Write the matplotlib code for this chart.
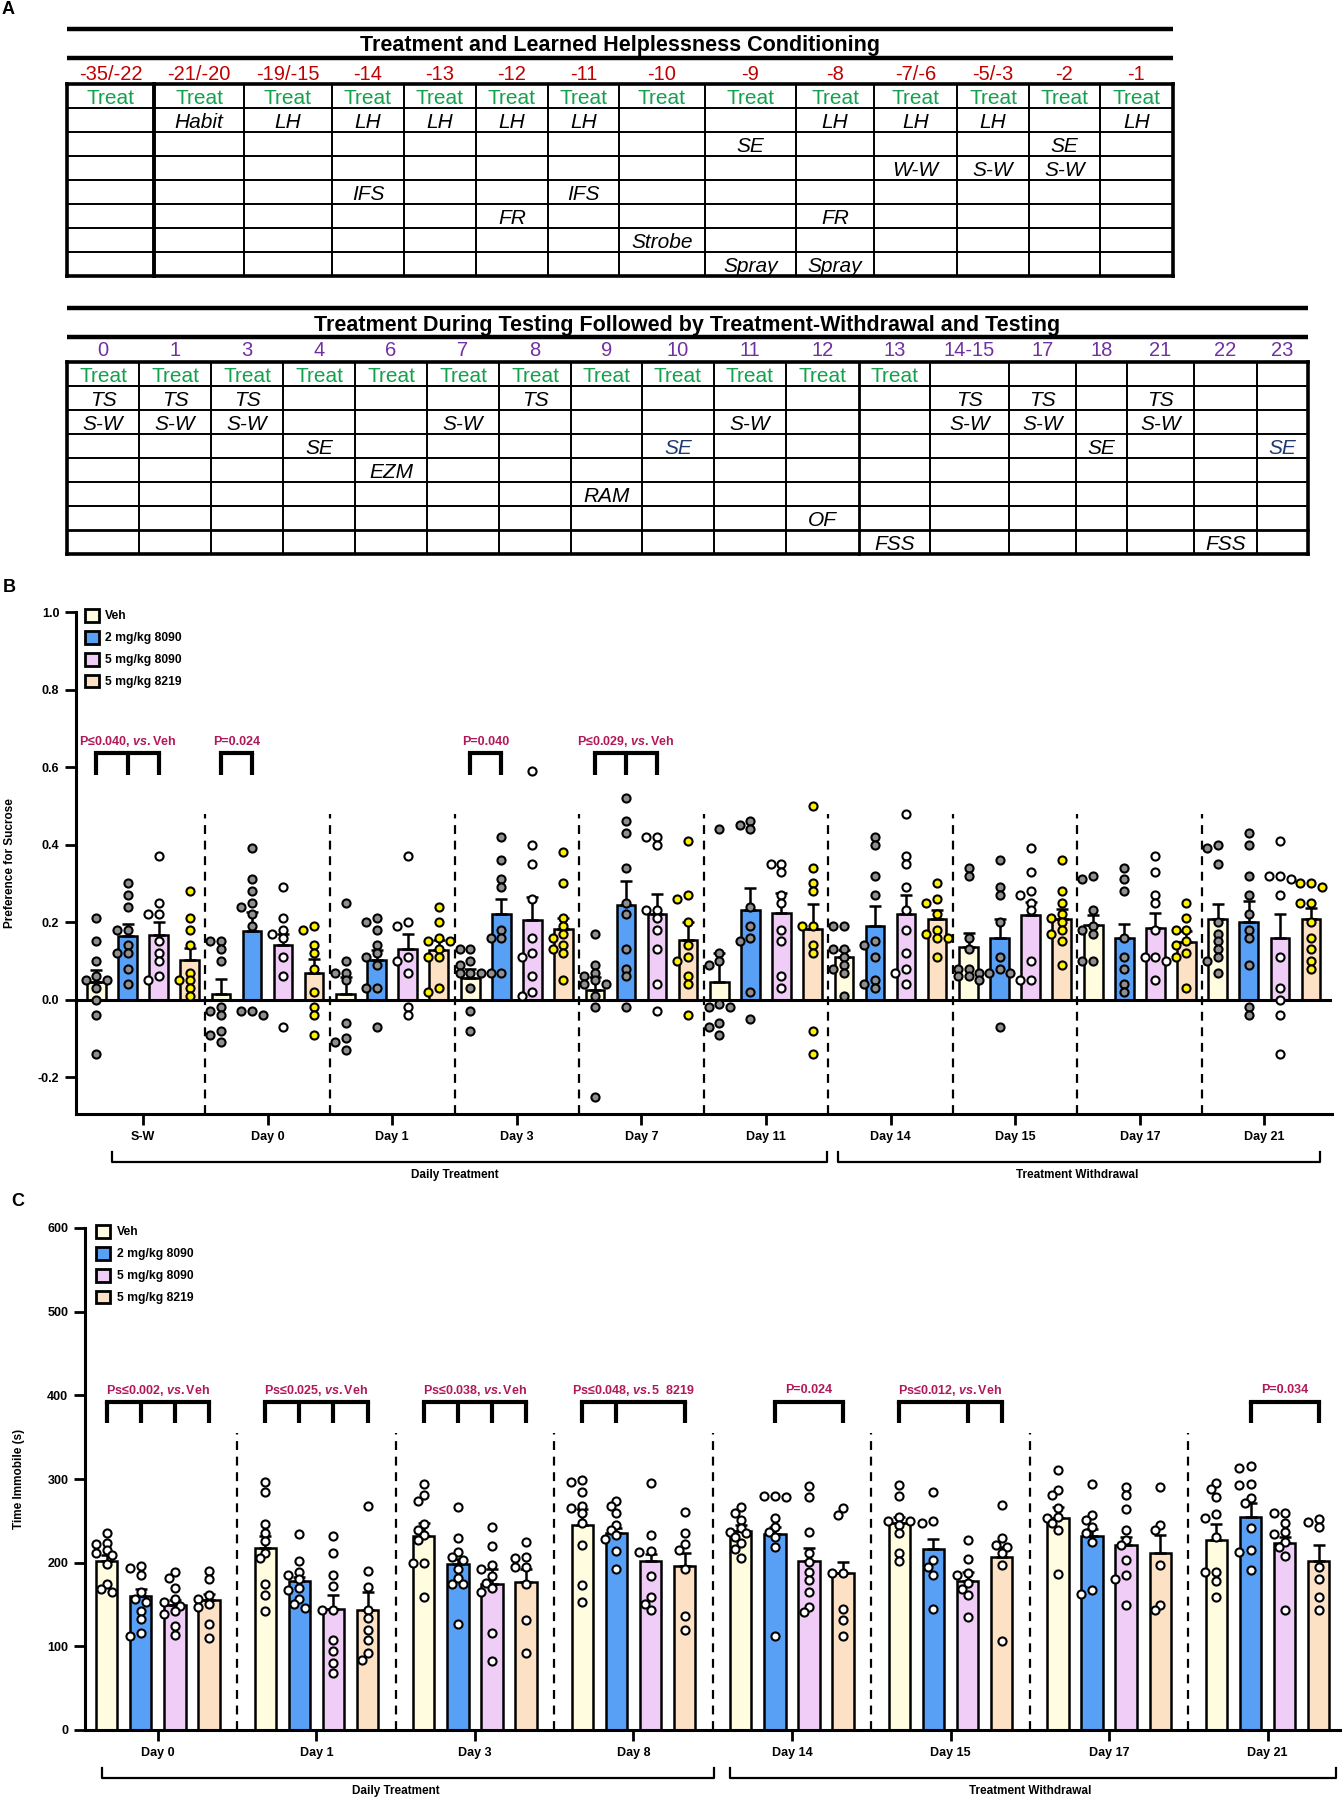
import numpy as np
import matplotlib.pyplot as plt
from matplotlib.patches import Patch
from matplotlib.transforms import blended_transform_factory

plt.rcParams['font.family'] = ['Liberation Sans', 'DejaVu Sans']
plt.rcParams['mathtext.fontset'] = 'custom'
plt.rcParams['mathtext.rm'] = 'Liberation Sans:bold'
plt.rcParams['mathtext.it'] = 'Liberation Sans:italic:bold'
plt.rcParams['mathtext.bf'] = 'Liberation Sans:bold'

# ---------------- panel A: schedules ----------------
top_title = 'Treatment and Learned Helplessness Conditioning'
top_days = ['-35/-22', '-21/-20', '-19/-15', '-14', '-13', '-12', '-11', '-10',
            '-9', '-8', '-7/-6', '-5/-3', '-2', '-1']
top_treat = list(range(14))
top_cells = [(1, 1, 'Habit'), (1, 2, 'LH'), (1, 3, 'LH'), (1, 4, 'LH'), (1, 5, 'LH'),
             (1, 6, 'LH'), (1, 9, 'LH'), (1, 10, 'LH'), (1, 11, 'LH'), (1, 13, 'LH'),
             (2, 8, 'SE'), (2, 12, 'SE'),
             (3, 10, 'W-W'), (3, 11, 'S-W'), (3, 12, 'S-W'),
             (4, 3, 'IFS'), (4, 6, 'IFS'),
             (5, 5, 'FR'), (5, 9, 'FR'),
             (6, 7, 'Strobe'),
             (7, 8, 'Spray'), (7, 9, 'Spray')]

bot_title = 'Treatment During Testing Followed by Treatment-Withdrawal and Testing'
bot_days = ['0', '1', '3', '4', '6', '7', '8', '9', '10', '11', '12', '13',
            '14-15', '17', '18', '21', '22', '23']
bot_treat = list(range(12))
bot_cells = [(1, 0, 'TS'), (1, 1, 'TS'), (1, 2, 'TS'), (1, 6, 'TS'), (1, 12, 'TS'),
             (1, 13, 'TS'), (1, 15, 'TS'),
             (2, 0, 'S-W'), (2, 1, 'S-W'), (2, 2, 'S-W'), (2, 5, 'S-W'), (2, 9, 'S-W'),
             (2, 12, 'S-W'), (2, 13, 'S-W'), (2, 15, 'S-W'),
             (3, 3, 'SE'), (3, 8, 'SE'), (3, 14, 'SE'), (3, 17, 'SE'),
             (4, 4, 'EZM'), (5, 7, 'RAM'), (6, 10, 'OF'), (7, 11, 'FSS'), (7, 16, 'FSS')]
bot_navy = [(3, 8), (3, 17)]

# ---------------- panel B: sucrose preference ----------------
treatments = ['Veh', '2 mg/kg 8090', '5 mg/kg 8090', '5 mg/kg 8219']
b_groups = ['S-W', 'Day 0', 'Day 1', 'Day 3', 'Day 7', 'Day 11', 'Day 14', 'Day 15', 'Day 17', 'Day 21']

b_veh_mean = [0.045, 0.015, 0.015, 0.057, 0.026, 0.046, 0.109, 0.136, 0.192, 0.207]
b_veh_sem = [0.032, 0.037, 0.043, 0.023, 0.032, 0.075, 0.020, 0.037, 0.026, 0.041]
b_2_mean = [0.165, 0.177, 0.103, 0.222, 0.243, 0.231, 0.190, 0.158, 0.158, 0.200]
b_2_sem = [0.029, 0.049, 0.024, 0.038, 0.063, 0.056, 0.051, 0.050, 0.037, 0.055]
b_5_mean = [0.166, 0.142, 0.130, 0.206, 0.222, 0.224, 0.220, 0.218, 0.186, 0.158]
b_5_sem = [0.034, 0.028, 0.040, 0.059, 0.051, 0.050, 0.050, 0.034, 0.038, 0.064]
b_8219_mean = [0.103, 0.070, 0.127, 0.183, 0.155, 0.181, 0.207, 0.207, 0.149, 0.207]
b_8219_sem = [0.029, 0.034, 0.026, 0.027, 0.045, 0.066, 0.024, 0.028, 0.027, 0.030]

b_pts_veh = [[0.21, 0.15, 0.10, 0.06, 0.05, 0.05, 0.03, 0.0, -0.04, -0.14],
             [0.15, 0.15, 0.13, 0.10, -0.02, -0.03, -0.04, -0.08, -0.09, -0.11],
             [0.25, 0.10, 0.07, 0.07, 0.05, -0.06, -0.10, -0.11, -0.13],
             [0.13, 0.13, 0.10, 0.09, 0.07, 0.07, 0.07, 0.03, -0.03, -0.08],
             [0.17, 0.09, 0.07, 0.06, 0.05, 0.04, 0.04, 0.01, -0.02, -0.25],
             [0.44, 0.12, 0.10, 0.09, -0.01, -0.02, -0.02, -0.06, -0.07, -0.09],
             [0.19, 0.19, 0.13, 0.13, 0.11, 0.09, 0.08, 0.07, 0.01],
             [0.34, 0.32, 0.16, 0.13, 0.08, 0.08, 0.07, 0.06, 0.06, 0.05],
             [0.32, 0.31, 0.23, 0.19, 0.18, 0.17, 0.10, 0.10],
             [0.40, 0.39, 0.35, 0.20, 0.17, 0.15, 0.13, 0.11, 0.10, 0.07]]
b_pts_2 = [[0.30, 0.27, 0.24, 0.18, 0.18, 0.14, 0.12, 0.12, 0.08, 0.04],
           [0.39, 0.31, 0.28, 0.25, 0.24, 0.22, 0.19, -0.03, -0.03, -0.04],
           [0.21, 0.20, 0.18, 0.14, 0.12, 0.11, 0.09, 0.03, 0.03, -0.07],
           [0.42, 0.36, 0.31, 0.29, 0.18, 0.16, 0.16, 0.07, 0.07],
           [0.52, 0.46, 0.43, 0.34, 0.25, 0.22, 0.13, 0.08, 0.06, -0.02],
           [0.46, 0.45, 0.44, 0.24, 0.19, 0.16, 0.15, 0.02, -0.05],
           [0.42, 0.40, 0.32, 0.27, 0.15, 0.14, 0.11, 0.05, 0.04, 0.03],
           [0.36, 0.29, 0.27, 0.20, 0.11, 0.08, 0.07, 0.07, -0.07],
           [0.34, 0.31, 0.28, 0.16, 0.11, 0.08, 0.04, 0.02],
           [0.43, 0.40, 0.32, 0.27, 0.22, 0.18, 0.16, 0.09, -0.02, -0.04]]
b_pts_5 = [[0.37, 0.25, 0.22, 0.22, 0.15, 0.12, 0.10, 0.06, 0.05],
           [0.29, 0.21, 0.18, 0.17, 0.16, 0.11, 0.06, -0.07],
           [0.37, 0.20, 0.19, 0.11, 0.10, 0.07, -0.02, -0.04],
           [0.59, 0.40, 0.35, 0.26, 0.16, 0.12, 0.11, 0.06, 0.02, 0.01],
           [0.42, 0.42, 0.40, 0.23, 0.23, 0.21, 0.18, 0.13, 0.04, -0.03],
           [0.35, 0.35, 0.33, 0.27, 0.25, 0.18, 0.15, 0.06, 0.03],
           [0.48, 0.37, 0.35, 0.29, 0.23, 0.18, 0.12, 0.08, 0.07, 0.04],
           [0.39, 0.33, 0.28, 0.27, 0.25, 0.23, 0.10, 0.05, 0.05],
           [0.37, 0.33, 0.27, 0.25, 0.18, 0.11, 0.11, 0.10, 0.05],
           [0.41, 0.32, 0.32, 0.31, 0.27, 0.11, 0.03, 0.0, -0.04, -0.14]]
b_pts_8219 = [[0.28, 0.21, 0.18, 0.14, 0.07, 0.05, 0.05, 0.03, 0.01],
              [0.19, 0.18, 0.14, 0.12, 0.08, 0.02, -0.02, -0.04, -0.09],
              [0.24, 0.20, 0.16, 0.15, 0.15, 0.13, 0.11, 0.11, 0.03, 0.02],
              [0.38, 0.30, 0.21, 0.19, 0.17, 0.16, 0.14, 0.13, 0.12, 0.05],
              [0.41, 0.27, 0.26, 0.20, 0.14, 0.11, 0.10, 0.06, 0.04, -0.04],
              [0.50, 0.34, 0.30, 0.28, 0.19, 0.19, 0.14, 0.12, -0.08, -0.14],
              [0.30, 0.26, 0.25, 0.22, 0.18, 0.17, 0.16, 0.16, 0.11],
              [0.36, 0.28, 0.25, 0.22, 0.21, 0.20, 0.18, 0.17, 0.15, 0.09],
              [0.25, 0.21, 0.18, 0.18, 0.15, 0.14, 0.12, 0.11, 0.03],
              [0.30, 0.30, 0.29, 0.25, 0.25, 0.20, 0.16, 0.13, 0.10, 0.08]]

b_sig = [(0, [0, 1, 2], 'P\u22640.040, $\\mathit{vs.}$Veh'),
         (1, [0, 1], 'P=0.024'),
         (3, [0, 1], 'P=0.040'),
         (4, [0, 1, 2], 'P\u22640.029, $\\mathit{vs.}$Veh')]

# ---------------- panel C: forced swim immobility ----------------
c_groups = ['Day 0', 'Day 1', 'Day 3', 'Day 8', 'Day 14', 'Day 15', 'Day 17', 'Day 21']

c_veh_mean = [202, 217, 232, 245, 238, 248, 253, 227]
c_veh_sem = [7, 15, 15, 19, 7, 7, 13, 19]
c_2_mean = [160, 178, 198, 236, 234, 216, 232, 254]
c_2_sem = [9, 5, 6, 5, 9, 12, 8, 17]
c_5_mean = [149, 145, 175, 202, 202, 178, 221, 223]
c_5_sem = [6, 16, 18, 8, 16, 11, 10, 8]
c_8219_mean = [155, 144, 177, 196, 188, 207, 211, 202]
c_8219_sem = [8, 21, 16, 16, 13, 12, 22, 19]

c_pts_veh = [[236, 224, 222, 215, 212, 209, 198, 175, 169, 165],
             [296, 285, 246, 235, 226, 212, 206, 175, 161, 142],
             [294, 281, 274, 246, 239, 233, 227, 200, 200, 159],
             [299, 297, 285, 268, 265, 259, 247, 221, 173, 153],
             [266, 259, 251, 241, 237, 235, 231, 223, 216, 205],
             [293, 280, 255, 250, 250, 245, 236, 212, 202],
             [311, 287, 281, 265, 255, 253, 247, 239, 187],
             [295, 288, 279, 258, 253, 231, 189, 189, 178, 159]]
c_pts_2 = [[196, 194, 185, 165, 157, 153, 142, 133, 116, 112],
           [234, 202, 189, 185, 180, 170, 167, 157, 151, 146],
           [266, 230, 213, 207, 203, 193, 182, 174, 174, 127],
           [274, 268, 259, 245, 239, 233, 228, 214, 193],
           [280, 280, 278, 253, 243, 237, 231, 219, 112],
           [285, 250, 248, 203, 195, 185, 145],
           [294, 257, 251, 243, 235, 225, 167, 163],
           [315, 313, 294, 293, 277, 271, 242, 215, 213, 191]]
c_pts_5 = [[189, 182, 170, 156, 153, 148, 142, 139, 124, 114],
           [232, 212, 185, 172, 143, 143, 108, 94, 80, 68],
           [243, 220, 197, 193, 184, 176, 170, 165, 116, 82],
           [295, 233, 214, 213, 184, 159, 151, 144],
           [292, 279, 237, 211, 201, 189, 179, 165, 147, 141],
           [227, 204, 188, 185, 176, 168, 161, 135],
           [290, 281, 264, 239, 227, 221, 203, 185, 181, 149],
           [259, 259, 247, 237, 234, 225, 219, 208, 143]]
c_pts_8219 = [[190, 181, 161, 156, 151, 147, 127, 110],
              [268, 190, 171, 143, 134, 120, 108, 92, 84],
              [225, 207, 205, 195, 195, 174, 132, 92],
              [261, 235, 222, 215, 192, 136, 120],
              [265, 257, 188, 188, 145, 132, 112],
              [269, 229, 221, 219, 211, 197, 106],
              [290, 245, 239, 197, 149, 143],
              [252, 249, 243, 195, 181, 159, 143]]

c_sig = [(0, [0, 1, 2, 3], 'Ps\u22640.002, $\\mathit{vs.}$Veh'),
         (1, [0, 1, 2, 3], 'Ps\u22640.025, $\\mathit{vs.}$Veh'),
         (2, [0, 1, 2, 3], 'Ps\u22640.038, $\\mathit{vs.}$Veh'),
         (3, [0, 1, 3], 'Ps\u22640.048, $\\mathit{vs.}$5  8219'),
         (4, [1, 3], 'P=0.024'),
         (5, [0, 2, 3], 'Ps\u22640.012, $\\mathit{vs.}$Veh'),
         (7, [1, 3], 'P=0.034')]

# ---------------- styling ----------------
bar_colors = ['#FFFCE0', '#57A0F6', '#EFCDF6', '#FDE1C4']
b_dot_colors = ['#8F8F8F', '#8F8F8F', 'white', '#FFF000']
c_dot_colors = ['white', 'white', 'white', 'white']
green = '#15A04E'
dark_red = '#C00000'
purple = '#7030A0'
navy = '#1F3A70'
sig_color = '#B0185A'

W, H = 1344, 1800
fig = plt.figure(figsize=(W / 100, H / 100), dpi=100)


def px_rect(left, top, right, bottom):
    return [left / W, 1 - bottom / H, (right - left) / W, (bottom - top) / H]


# overlay in pixel units for the schedule tables and panel letters
ov = fig.add_axes([0, 0, 1, 1])
ov.set_xlim(0, W)
ov.set_ylim(H, 0)
ov.axis('off')


def draw_schedule(xs, ys, title, days, day_color, treat_cols, cells, navy_cells=(),
                  thick_col=None, thick_row=None, row_h=24, n_rows=8):
    rule1, y_title, rule2, y_head, y_top = ys
    x0, x1 = xs[0], xs[-1]
    for yy in (rule1, rule2):
        ov.plot([x0, x1], [yy, yy], color='k', lw=3.2, solid_capstyle='butt')
    ov.text((x0 + x1) / 2, y_title, title, ha='center', va='center_baseline',
            fontsize=15.5, fontweight='bold')
    for i, d in enumerate(days):
        ov.text((xs[i] + xs[i + 1]) / 2, y_head, d, ha='center', va='center_baseline',
                fontsize=14.5, color=day_color)
    y_bot = y_top + n_rows * row_h
    for r in range(n_rows + 1):
        yy = y_top + r * row_h
        if r in (0, n_rows):
            lw = 2.6
        elif r == thick_row:
            lw = 2.0
        else:
            lw = 1.4
        ov.plot([x0, x1], [yy, yy], color='k', lw=lw, solid_capstyle='projecting')
    for c, xx in enumerate(xs):
        if c in (0, len(xs) - 1):
            lw = 2.6
        elif c == thick_col:
            lw = 2.0 if thick_row is not None else 2.8
        else:
            lw = 1.4
        ov.plot([xx, xx], [y_top, y_bot], color='k', lw=lw, solid_capstyle='projecting')
    for c in treat_cols:
        ov.text((xs[c] + xs[c + 1]) / 2, y_top + 0.5 * row_h, 'Treat', ha='center',
                va='center_baseline', fontsize=15, color=green)
    for r, c, txt in cells:
        col = navy if (r, c) in navy_cells else 'k'
        ov.text((xs[c] + xs[c + 1]) / 2, y_top + (r + 0.5) * row_h, txt, ha='center',
                va='center_baseline', fontsize=15, style='italic', color=col)


draw_schedule([67, 154, 244, 332, 404, 476, 548, 619, 705, 796, 874, 957, 1029, 1100, 1173],
              (29, 43, 58, 72, 84), top_title, top_days, dark_red, top_treat, top_cells,
              thick_col=1)
draw_schedule([67, 139, 211, 283, 355, 427, 499, 571, 642, 714, 786, 859, 930, 1009, 1076,
               1127, 1194, 1257, 1308],
              (308, 323, 337, 349, 362), bot_title, bot_days, purple, bot_treat, bot_cells,
              navy_cells=bot_navy, thick_col=11, thick_row=7)

for letter, (lx, ly) in zip('ABC', [(8, 9), (9, 587), (18, 1202)]):
    ov.text(lx, ly, letter, ha='center', va='center', fontsize=13, fontweight='bold')


def swarm(vals, dx, dy, thr=0.8):
    vals = np.asarray(vals, dtype=float)
    out = np.zeros(len(vals))
    placed = []
    for i in np.argsort(-vals, kind='stable'):
        v = vals[i]
        for k in (0, -1, 1, -2, 2, -3, 3, -4, 4):
            x = k * 0.6 * dx
            if all(((x - px) / dx) ** 2 + ((v - py) / dy) ** 2 >= thr ** 2 for px, py in placed):
                break
        placed.append((x, v))
        out[i] = x
    return out


def bar_panel(rect, groups, means, sems, points, dot_colors, spacing, bw, ylim, yticks,
              yfmt, ylabel, dot_d, sig, sig_y, sig_drop, text_y, dash_top, periods,
              legend_x, xlim, ylabel_x):
    ax = fig.add_axes(rect)
    ax.set_facecolor('none')
    xg = np.arange(len(groups))
    offs = (np.arange(4) - 1.5) * spacing
    for j in range(4):
        xb = xg + offs[j]
        ax.bar(xb, means[j], width=bw, color=bar_colors[j], edgecolor='k', lw=1.8, zorder=2)
        ax.errorbar(xb, means[j], yerr=[np.zeros(len(xg)), sems[j]], fmt='none', ecolor='k',
                    elinewidth=1.8, capsize=4.2, capthick=1.8, zorder=3)
        for g in range(len(xg)):
            vals = points[j][g]
            dx = swarm(vals, dot_d[0], dot_d[1])
            ax.scatter(xb[g] + dx, vals, s=34, facecolor=dot_colors[j], edgecolor='k',
                       lw=1.5, zorder=4, clip_on=False)
    ax.set_xlim(*xlim)
    ax.set_ylim(*ylim)
    ax.vlines(xg[:-1] + 0.5, ylim[0], dash_top, colors='k', linestyles=(0, (4, 3)), lw=1.6,
              zorder=1)
    for s in ('top', 'right'):
        ax.spines[s].set_visible(False)
    for s in ('left', 'bottom'):
        ax.spines[s].set_linewidth(2.2)
    ax.set_xticks(xg)
    ax.set_xticklabels(groups, fontsize=9, fontweight='bold')
    ax.set_yticks(yticks)
    ax.set_yticklabels([yfmt.format(t) for t in yticks], fontsize=9, fontweight='bold')
    ax.tick_params(length=8, width=2, pad=4)
    ax.set_ylabel(ylabel, fontsize=8.5, fontweight='bold')
    ax.yaxis.set_label_coords(ylabel_x, 0.5)
    # significance brackets
    for g, bars, txt in sig:
        xs_ = [g + offs[b] for b in bars]
        ax.plot([xs_[0], xs_[-1]], [sig_y, sig_y], color='k', lw=3, solid_capstyle='projecting',
                zorder=5, clip_on=False)
        for xx in xs_:
            ax.plot([xx, xx], [sig_y, sig_y - sig_drop], color='k', lw=3,
                    solid_capstyle='butt', zorder=5, clip_on=False)
        ax.text((xs_[0] + xs_[-1]) / 2, text_y, txt, ha='center', va='center',
                fontsize=9, fontweight='bold', color=sig_color)
    # treatment period brackets under the axis
    tr = blended_transform_factory(ax.transData, ax.transAxes)
    for label, lo, hi, lab_x in periods:
        ax.plot([lo, lo, hi, hi], [-0.0757, -0.0956, -0.0956, -0.0757], color='k', lw=1.6,
                transform=tr, clip_on=False)
        ax.text(lab_x, -0.1215, label, ha='center', va='center', fontsize=8.5,
                fontweight='bold', transform=tr)
    handles = [Patch(facecolor=c, edgecolor='k', lw=2) for c in bar_colors]
    ax.legend(handles, treatments, loc='upper left', bbox_to_anchor=(legend_x, 1.006),
              frameon=False, prop={'weight': 'bold', 'size': 8.7}, handlelength=1.15,
              handleheight=1.25, labelspacing=0.7, handletextpad=0.55, borderaxespad=0,
              borderpad=0)
    return ax


axB = bar_panel(px_rect(76, 612, 1332, 1114), b_groups,
                [b_veh_mean, b_2_mean, b_5_mean, b_8219_mean],
                [b_veh_sem, b_2_sem, b_5_sem, b_8219_sem],
                [b_pts_veh, b_pts_2, b_pts_5, b_pts_8219], b_dot_colors,
                spacing=0.249, bw=0.15, ylim=(-0.295, 1.0),
                yticks=[-0.2, 0.0, 0.2, 0.4, 0.6, 0.8, 1.0], yfmt='{:.1f}',
                ylabel='Preference for Sucrose', dot_d=(0.072, 0.0235),
                sig=b_sig, sig_y=0.636, sig_drop=0.056, text_y=0.665, dash_top=0.48,
                periods=[('Daily Treatment', -0.25, 5.49, 2.5),
                         ('Treatment Withdrawal', 5.58, 9.45, 7.5)],
                legend_x=0.007, xlim=(-0.538, 9.543), ylabel_x=-0.048)
axB.axhline(0, color='k', lw=2.2, zorder=3)

bar_panel(px_rect(85, 1228, 1340, 1730), c_groups,
          [c_veh_mean, c_2_mean, c_5_mean, c_8219_mean],
          [c_veh_sem, c_2_sem, c_5_sem, c_8219_sem],
          [c_pts_veh, c_pts_2, c_pts_5, c_pts_8219], c_dot_colors,
          spacing=0.215, bw=0.134, ylim=(0, 600),
          yticks=[0, 100, 200, 300, 400, 500, 600], yfmt='{:d}',
          ylabel='Time Immobile (s)', dot_d=(0.058, 10.8),
          sig=c_sig, sig_y=392, sig_drop=25, text_y=406, dash_top=355,
          periods=[('Daily Treatment', -0.35, 3.51, 1.5),
                   ('Treatment Withdrawal', 3.61, 7.43, 5.5)],
          legend_x=0.009, xlim=(-0.46, 7.457), ylabel_x=-0.048)

fig.savefig('out.png', dpi=100)
